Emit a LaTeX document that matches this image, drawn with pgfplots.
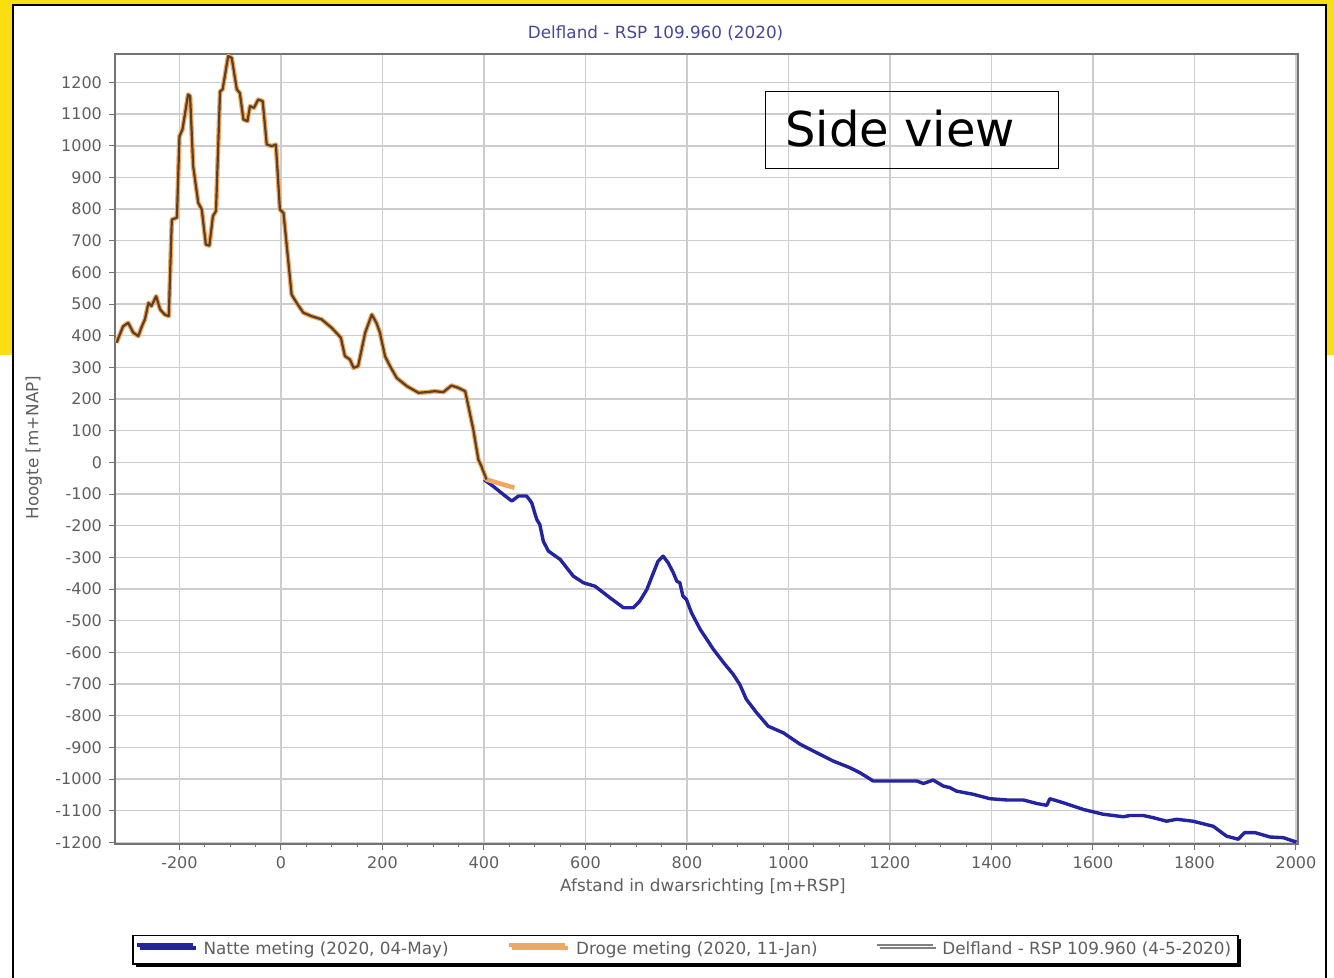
\documentclass[border=0pt]{standalone}
\usepackage{fontspec}
\setmainfont{DejaVu Sans}
\usepackage{pgfplots}
\pgfplotsset{compat=1.18}
\usetikzlibrary{shadows}
\definecolor{ylw}{RGB}{250,222,20}
\definecolor{bluel}{RGB}{36,36,160}
\definecolor{orl}{RGB}{238,168,98}
\definecolor{brl}{RGB}{96,62,34}
\definecolor{titc}{RGB}{72,72,150}
\definecolor{txtc}{RGB}{95,95,95}
\definecolor{gridc}{RGB}{205,205,205}
\definecolor{axc}{RGB}{115,115,115}

\pgfplotstableread{
x y
-324 378
-311 430
-301 441
-291 410
-281 399
-274 430
-268 452
-261 504
-255 494
-246 525
-238 483
-229 467
-221 462
-215 767
-205 773
-200 1030
-194 1052
-183 1162
-179 1157
-173 936
-163 820
-156 799
-148 688
-141 685
-134 778
-128 794
-120 1172
-115 1178
-104 1283
-97 1278
-87 1178
-81 1167
-74 1083
-66 1078
-61 1125
-53 1120
-45 1146
-36 1141
-28 1004
-18 999
-10 1004
-2 799
5 788
21 530
31 504
44 473
60 462
80 452
100 425
118 394
126 336
136 325
143 299
152 304
166 410
179 467
188 441
195 410
205 336
215 304
228 267
248 241
271 220
287 222
303 225
320 222
336 243
349 236
363 225
372 157
379 104
389 9
395 -12
405 -54
}\delfland

\pgfplotstableread{
x y
-324 378
-311 430
-301 441
-291 410
-281 399
-274 430
-268 452
-261 504
-255 494
-246 525
-238 483
-229 467
-221 462
-215 767
-205 773
-200 1030
-194 1052
-183 1162
-179 1157
-173 936
-163 820
-156 799
-148 688
-141 685
-134 778
-128 794
-120 1172
-115 1178
-104 1283
-97 1278
-87 1178
-81 1167
-74 1083
-66 1078
-61 1125
-53 1120
-45 1146
-36 1141
-28 1004
-18 999
-10 1004
-2 799
5 788
21 530
31 504
44 473
60 462
80 452
100 425
118 394
126 336
136 325
143 299
152 304
166 410
179 467
188 441
195 410
205 336
215 304
228 267
248 241
271 220
287 222
303 225
320 222
336 243
349 236
363 225
372 157
379 104
389 9
395 -12
405 -54
430 -66
460 -80
}\droge

\pgfplotstableread{
x y
400 -54
418 -75
438 -101
455 -122
468 -106
484 -106
494 -127
504 -180
510 -196
517 -249
527 -280
550 -306
576 -359
596 -380
619 -391
648 -427
675 -459
694 -459
707 -438
721 -401
730 -364
743 -312
753 -296
763 -317
773 -348
780 -375
786 -380
792 -422
799 -433
809 -475
826 -527
852 -590
872 -632
891 -669
904 -701
917 -748
937 -790
960 -833
990 -854
1023 -890
1056 -917
1088 -943
1121 -964
1141 -980
1167 -1006
1253 -1006
1266 -1014
1285 -1003
1305 -1022
1318 -1027
1331 -1038
1364 -1048
1397 -1062
1430 -1066
1463 -1066
1489 -1077
1509 -1083
1515 -1062
1542 -1075
1581 -1096
1620 -1111
1660 -1119
1673 -1115
1699 -1115
1719 -1122
1745 -1133
1765 -1127
1797 -1133
1837 -1149
1863 -1180
1886 -1190
1899 -1169
1919 -1169
1949 -1183
1975 -1185
2001 -1199
}\natte

\begin{document}
\begin{tikzpicture}
\useasboundingbox (0,0) rectangle (667pt,489pt);
\fill[white] (0,0) rectangle (667pt,489pt);
\fill[ylw] (0,311.5pt) rectangle (667pt,489pt);
\fill[white,draw=black,line width=1pt] (6.5pt,-2pt) rectangle (663pt,486.5pt);

\begin{axis}[
  at={(57.5pt,67pt)}, anchor=south west,
  scale only axis, width=591.5pt, height=395pt,
  xmin=-327, xmax=2004, ymin=-1205, ymax=1290,
  xtick={-200,0,...,2000},
  ytick={-1200,-1100,...,1200},
  minor x tick num=3,
  grid=major,
  major grid style={gridc, line width=0.7pt},
  axis line style={axc, line width=1.2pt},
  tick style={axc, line width=0.5pt},
  major tick length=3pt, minor tick length=1.5pt,
  tick align=outside,
  xtick pos=bottom, ytick pos=left,
  ticklabel style={font=\fontsize{8}{9.5}\selectfont, text=txtc},
  /pgf/number format/assume math mode=true,
  /pgf/number format/set thousands separator={},
  xlabel={Afstand in dwarsrichting [m+RSP]},
  ylabel={Hoogte [m+NAP]},
  label style={font=\fontsize{8.4}{10}\selectfont, text=txtc},
  xlabel style={at={(axis description cs:0.497,0)}, anchor=north, yshift=-14pt},
  ylabel style={at={(axis description cs:0,0.502)}, anchor=south, yshift=33pt},
  title={Delfland - RSP 109.960 (2020)},
  title style={font=\fontsize{8.4}{10}\selectfont, text=titc, at={(axis description cs:0.457,1)}, anchor=south, yshift=-3pt},
  legend columns=3,
  legend style={at={(axis description cs:0.482,-0.134)}, anchor=center,
    draw=black, line width=0.9pt, fill=white,
    drop shadow={shadow xshift=1.5pt, shadow yshift=-1.5pt, fill=black, opacity=1},
    font=\fontsize{8.4}{10}\selectfont, text=txtc,
    inner sep=1.2pt,
    /tikz/every odd column/.append style={column sep=2.5pt},
    /tikz/every even column/.append style={column sep=27pt}},
  legend image code/.code={\draw[#1] (0pt,2.5pt) -- (28pt,2.5pt);},
]
\addplot[bluel, line width=1.7pt, line join=round] table[x=x,y=y]{\natte};
\addlegendentry{Natte meting (2020, 04-May)}
\addplot[orl, line width=2.3pt, line join=round] table[x=x,y=y]{\droge};
\addlegendentry{Droge meting (2020, 11-Jan)}
\addlegendimage{gray, line width=0.8pt}
\addlegendentry{Delfland - RSP 109.960 (4-5-2020)}
\addplot[brl, line width=1.1pt, line join=round, forget plot] table[x=x,y=y]{\delfland};
\end{axis}

\node[draw=black, line width=0.7pt, minimum width=146.5pt, minimum height=38.5pt, anchor=north west, inner sep=0pt] at (382.5pt,443.5pt) {};
\node[anchor=west, font=\fontsize{24}{28}\selectfont, inner sep=0pt] at (392.5pt,424.5pt) {Side view};
\end{tikzpicture}
\end{document}
